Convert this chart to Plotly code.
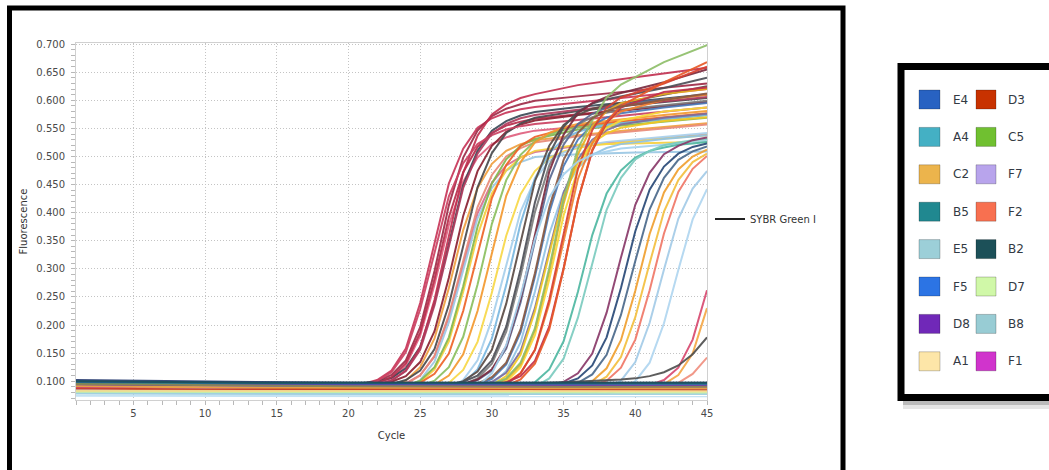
import plotly.graph_objects as go

# ---------------- data ----------------
X_TICKS = [5, 10, 15, 20, 25, 30, 35, 40, 45]
Y_TICKS = [0.100, 0.150, 0.200, 0.250, 0.300, 0.350, 0.400, 0.450, 0.500, 0.550, 0.600, 0.650, 0.700]

# early risers (Ct ~ 25-29)
X_EARLY = [1, 10, 20, 21, 22, 23, 24, 25, 26, 27, 28, 29, 30, 31, 32, 33, 36, 40, 45]
EARLY_COLORS = ["#c8375a", "#9e2c48", "#e0607e", "#3d4a58", "#c23252", "#f0a040", "#b82e4c",
                "#8a2232", "#d87090", "#4a4a4e", "#cc4262", "#e98a78", "#9cc8e4", "#f6d040",
                "#84b84e", "#ee6428", "#b03c5e"]
EARLY_VALUES = [
    [0.095, 0.094, 0.093, 0.095, 0.102, 0.119, 0.158, 0.239, 0.348, 0.452, 0.514, 0.551, 0.568, 0.578, 0.584, 0.588, 0.596, 0.607, 0.620],
    [0.097, 0.096, 0.095, 0.095, 0.100, 0.111, 0.137, 0.196, 0.296, 0.413, 0.498, 0.546, 0.572, 0.585, 0.593, 0.599, 0.607, 0.617, 0.630],
    [0.092, 0.091, 0.090, 0.090, 0.095, 0.104, 0.128, 0.181, 0.272, 0.378, 0.455, 0.498, 0.522, 0.534, 0.541, 0.546, 0.553, 0.563, 0.575],
    [0.099, 0.098, 0.097, 0.097, 0.099, 0.106, 0.123, 0.161, 0.240, 0.347, 0.449, 0.510, 0.546, 0.563, 0.573, 0.579, 0.588, 0.598, 0.611],
    [0.093, 0.092, 0.091, 0.091, 0.093, 0.101, 0.119, 0.160, 0.245, 0.361, 0.471, 0.537, 0.575, 0.593, 0.604, 0.611, 0.627, 0.641, 0.658],
    [0.089, 0.088, 0.087, 0.087, 0.087, 0.092, 0.101, 0.125, 0.176, 0.266, 0.369, 0.444, 0.487, 0.510, 0.522, 0.529, 0.538, 0.548, 0.559],
    [0.094, 0.093, 0.092, 0.092, 0.097, 0.107, 0.132, 0.187, 0.282, 0.392, 0.472, 0.517, 0.542, 0.555, 0.562, 0.567, 0.575, 0.585, 0.597],
    [0.096, 0.095, 0.094, 0.094, 0.094, 0.099, 0.109, 0.134, 0.189, 0.284, 0.394, 0.474, 0.519, 0.544, 0.557, 0.564, 0.574, 0.584, 0.597],
    [0.090, 0.089, 0.088, 0.088, 0.088, 0.089, 0.096, 0.111, 0.144, 0.214, 0.309, 0.399, 0.453, 0.484, 0.499, 0.508, 0.519, 0.528, 0.539],
    [0.095, 0.094, 0.093, 0.093, 0.093, 0.095, 0.102, 0.119, 0.157, 0.236, 0.343, 0.445, 0.506, 0.542, 0.559, 0.569, 0.581, 0.592, 0.604],
    [0.093, 0.092, 0.091, 0.093, 0.100, 0.116, 0.152, 0.228, 0.331, 0.429, 0.488, 0.522, 0.538, 0.548, 0.554, 0.558, 0.565, 0.575, 0.587],
    [0.088, 0.087, 0.086, 0.086, 0.086, 0.087, 0.095, 0.110, 0.145, 0.218, 0.316, 0.410, 0.467, 0.500, 0.515, 0.525, 0.536, 0.545, 0.557],
    [0.081, 0.080, 0.079, 0.079, 0.079, 0.080, 0.087, 0.102, 0.135, 0.205, 0.300, 0.390, 0.444, 0.475, 0.490, 0.499, 0.504, 0.507, 0.509],
    [0.086, 0.085, 0.084, 0.084, 0.084, 0.084, 0.089, 0.098, 0.121, 0.171, 0.259, 0.360, 0.434, 0.475, 0.498, 0.510, 0.521, 0.523, 0.526],
    [0.089, 0.088, 0.087, 0.087, 0.087, 0.087, 0.092, 0.101, 0.125, 0.178, 0.269, 0.375, 0.452, 0.495, 0.519, 0.531, 0.548, 0.557, 0.569],
    [0.090, 0.089, 0.088, 0.088, 0.088, 0.088, 0.090, 0.097, 0.113, 0.149, 0.225, 0.328, 0.426, 0.485, 0.519, 0.535, 0.555, 0.565, 0.577],
    [0.094, 0.093, 0.092, 0.092, 0.094, 0.101, 0.118, 0.156, 0.235, 0.342, 0.444, 0.505, 0.541, 0.558, 0.568, 0.574, 0.583, 0.593, 0.606],
]

# middle risers (Ct ~ 29-36)
X_MID = [1, 10, 20, 25, 26, 27, 28, 29, 30, 31, 32, 33, 34, 35, 36, 37, 38, 39, 42, 45]
MID_COLORS = ["#8cc060", "#f49a30", "#f8d848", "#a8d0ec", "#7ab8e0", "#5b4b45", "#7d7d7d", "#4e5058",
              "#5a6a92", "#7b2c40", "#4a7ab8", "#92c4e4", "#7e6e9e", "#f2c824", "#f8d838", "#e8ae22",
              "#8fbf6a", "#f08030", "#d84232", "#c2304a", "#e85a28", "#8a5a42", "#a6d2ee"]
MID_VALUES = [
    [0.088, 0.087, 0.086, 0.091, 0.101, 0.125, 0.179, 0.272, 0.380, 0.458, 0.503, 0.527, 0.539, 0.547, 0.552, 0.554, 0.556, 0.559, 0.566, 0.574],
    [0.087, 0.086, 0.085, 0.087, 0.094, 0.110, 0.148, 0.225, 0.330, 0.430, 0.490, 0.525, 0.542, 0.552, 0.558, 0.561, 0.564, 0.566, 0.574, 0.581],
    [0.085, 0.084, 0.083, 0.083, 0.088, 0.097, 0.120, 0.170, 0.258, 0.359, 0.433, 0.474, 0.497, 0.509, 0.515, 0.520, 0.522, 0.525, 0.532, 0.538],
    [0.080, 0.079, 0.078, 0.078, 0.079, 0.087, 0.102, 0.137, 0.210, 0.308, 0.402, 0.459, 0.492, 0.507, 0.517, 0.522, 0.526, 0.528, 0.535, 0.542],
    [0.083, 0.082, 0.081, 0.081, 0.081, 0.086, 0.096, 0.121, 0.176, 0.271, 0.381, 0.461, 0.506, 0.531, 0.544, 0.551, 0.556, 0.559, 0.566, 0.574],
    [0.092, 0.091, 0.090, 0.090, 0.090, 0.092, 0.100, 0.117, 0.156, 0.238, 0.350, 0.456, 0.519, 0.556, 0.574, 0.585, 0.591, 0.595, 0.610, 0.625],
    [0.091, 0.090, 0.089, 0.089, 0.089, 0.089, 0.094, 0.105, 0.131, 0.188, 0.287, 0.401, 0.484, 0.531, 0.557, 0.570, 0.578, 0.583, 0.591, 0.599],
    [0.096, 0.095, 0.094, 0.094, 0.094, 0.094, 0.099, 0.110, 0.137, 0.197, 0.299, 0.418, 0.504, 0.553, 0.580, 0.594, 0.602, 0.607, 0.622, 0.640],
    [0.094, 0.093, 0.092, 0.092, 0.092, 0.092, 0.094, 0.102, 0.119, 0.158, 0.240, 0.352, 0.458, 0.521, 0.558, 0.576, 0.587, 0.593, 0.602, 0.610],
    [0.095, 0.094, 0.093, 0.093, 0.093, 0.093, 0.095, 0.103, 0.121, 0.162, 0.247, 0.363, 0.473, 0.539, 0.577, 0.595, 0.606, 0.613, 0.632, 0.655],
    [0.090, 0.089, 0.088, 0.088, 0.088, 0.088, 0.088, 0.093, 0.104, 0.130, 0.187, 0.286, 0.400, 0.483, 0.530, 0.556, 0.569, 0.577, 0.587, 0.595],
    [0.082, 0.081, 0.080, 0.080, 0.080, 0.080, 0.080, 0.085, 0.094, 0.118, 0.169, 0.259, 0.362, 0.437, 0.480, 0.503, 0.515, 0.522, 0.531, 0.538],
    [0.092, 0.091, 0.090, 0.090, 0.090, 0.090, 0.090, 0.092, 0.099, 0.115, 0.153, 0.230, 0.335, 0.435, 0.495, 0.530, 0.547, 0.557, 0.569, 0.576],
    [0.086, 0.085, 0.084, 0.084, 0.084, 0.084, 0.084, 0.086, 0.093, 0.109, 0.147, 0.224, 0.329, 0.429, 0.489, 0.524, 0.541, 0.551, 0.563, 0.570],
    [0.085, 0.084, 0.083, 0.083, 0.083, 0.083, 0.083, 0.083, 0.088, 0.099, 0.125, 0.182, 0.281, 0.395, 0.478, 0.525, 0.551, 0.564, 0.580, 0.587],
    [0.088, 0.087, 0.086, 0.086, 0.086, 0.086, 0.086, 0.086, 0.092, 0.103, 0.130, 0.191, 0.295, 0.416, 0.504, 0.554, 0.581, 0.595, 0.611, 0.620],
    [0.090, 0.089, 0.088, 0.088, 0.088, 0.088, 0.088, 0.088, 0.094, 0.105, 0.133, 0.194, 0.301, 0.424, 0.514, 0.564, 0.605, 0.628, 0.668, 0.698],
    [0.089, 0.088, 0.087, 0.087, 0.087, 0.087, 0.087, 0.087, 0.089, 0.097, 0.114, 0.155, 0.238, 0.352, 0.460, 0.524, 0.562, 0.580, 0.601, 0.610],
    [0.087, 0.086, 0.085, 0.085, 0.085, 0.085, 0.085, 0.085, 0.087, 0.095, 0.114, 0.156, 0.245, 0.364, 0.478, 0.547, 0.587, 0.605, 0.630, 0.660],
    [0.094, 0.093, 0.092, 0.092, 0.092, 0.092, 0.092, 0.092, 0.092, 0.098, 0.109, 0.136, 0.197, 0.301, 0.422, 0.510, 0.560, 0.587, 0.615, 0.623],
    [0.088, 0.087, 0.086, 0.086, 0.086, 0.086, 0.086, 0.086, 0.086, 0.092, 0.103, 0.131, 0.192, 0.299, 0.422, 0.512, 0.562, 0.590, 0.632, 0.668],
    [0.093, 0.092, 0.091, 0.091, 0.091, 0.091, 0.091, 0.096, 0.107, 0.133, 0.192, 0.292, 0.409, 0.494, 0.542, 0.568, 0.581, 0.589, 0.600, 0.612],
    [0.079, 0.078, 0.077, 0.077, 0.077, 0.077, 0.082, 0.091, 0.114, 0.164, 0.252, 0.353, 0.427, 0.468, 0.491, 0.503, 0.509, 0.514, 0.521, 0.528],
]

# late risers (Ct ~ 36-45)
X_LATE = [1, 10, 20, 30, 32, 33, 34, 35, 36, 37, 38, 39, 40, 41, 42, 43, 44, 45]
LATE_COLORS = ["#4fb8a2", "#7cccc0", "#8a3a6a", "#2a4a78", "#4c6a8c", "#f0a030", "#f4c040",
               "#f07868", "#a4cce8", "#b0d6f0", "#d84a70", "#f5a848", "#505050", "#f09080"]
LATE_VALUES = [
    [0.086, 0.085, 0.084, 0.084, 0.089, 0.098, 0.121, 0.171, 0.259, 0.360, 0.434, 0.475, 0.498, 0.510, 0.516, 0.521, 0.523, 0.526],
    [0.083, 0.082, 0.081, 0.081, 0.082, 0.090, 0.105, 0.140, 0.213, 0.311, 0.405, 0.462, 0.495, 0.510, 0.520, 0.525, 0.529, 0.531],
    [0.092, 0.091, 0.090, 0.090, 0.090, 0.090, 0.091, 0.099, 0.114, 0.149, 0.222, 0.320, 0.414, 0.471, 0.504, 0.519, 0.529, 0.534],
    [0.093, 0.092, 0.091, 0.091, 0.091, 0.091, 0.091, 0.096, 0.105, 0.128, 0.178, 0.266, 0.367, 0.441, 0.482, 0.505, 0.517, 0.523],
    [0.091, 0.090, 0.089, 0.089, 0.089, 0.089, 0.089, 0.090, 0.097, 0.112, 0.147, 0.218, 0.314, 0.406, 0.462, 0.494, 0.509, 0.518],
    [0.088, 0.087, 0.086, 0.086, 0.086, 0.086, 0.086, 0.086, 0.091, 0.100, 0.123, 0.173, 0.261, 0.362, 0.436, 0.477, 0.500, 0.512],
    [0.087, 0.086, 0.085, 0.085, 0.085, 0.085, 0.085, 0.085, 0.086, 0.093, 0.108, 0.143, 0.214, 0.310, 0.402, 0.458, 0.490, 0.505],
    [0.089, 0.088, 0.087, 0.087, 0.087, 0.087, 0.087, 0.087, 0.087, 0.092, 0.101, 0.124, 0.174, 0.262, 0.363, 0.437, 0.478, 0.501],
    [0.080, 0.079, 0.078, 0.078, 0.078, 0.078, 0.078, 0.078, 0.078, 0.079, 0.086, 0.101, 0.134, 0.204, 0.299, 0.389, 0.443, 0.474],
    [0.079, 0.078, 0.077, 0.077, 0.077, 0.077, 0.077, 0.077, 0.077, 0.077, 0.078, 0.085, 0.100, 0.133, 0.203, 0.298, 0.388, 0.442],
    [0.090, 0.089, 0.088, 0.088, 0.088, 0.088, 0.088, 0.088, 0.088, 0.088, 0.088, 0.088, 0.088, 0.093, 0.102, 0.124, 0.174, 0.262],
    [0.088, 0.087, 0.086, 0.086, 0.086, 0.086, 0.086, 0.086, 0.086, 0.086, 0.086, 0.086, 0.086, 0.088, 0.095, 0.111, 0.149, 0.230],
    [0.095, 0.094, 0.094, 0.094, 0.095, 0.096, 0.097, 0.098, 0.099, 0.100, 0.101, 0.103, 0.105, 0.109, 0.116, 0.128, 0.148, 0.178],
    [0.087, 0.086, 0.085, 0.085, 0.085, 0.085, 0.085, 0.085, 0.085, 0.085, 0.085, 0.085, 0.085, 0.086, 0.089, 0.097, 0.113, 0.142],
]

# non-amplifying wells (flat baselines)
X_FLAT = [1, 5, 10, 15, 20, 25, 30, 35, 40, 45]
FLAT_COLORS = ["#2b3f73", "#1f5fb8", "#2e74dc", "#23888f", "#43b0c2", "#1d5159", "#7229ba", "#d232c8",
               "#b9a2ea", "#e9a93a", "#8a8a50", "#c83a20", "#9fd0de", "#bfe0f4", "#c9f0a4", "#f6dc90"]
FLAT_VALUES = [
    [0.102, 0.101, 0.099, 0.098, 0.097, 0.097, 0.097, 0.097, 0.097, 0.097],
    [0.099, 0.098, 0.097, 0.096, 0.096, 0.096, 0.096, 0.095, 0.095, 0.095],
    [0.094, 0.094, 0.093, 0.093, 0.093, 0.093, 0.093, 0.093, 0.093, 0.093],
    [0.096, 0.095, 0.094, 0.094, 0.094, 0.094, 0.094, 0.094, 0.094, 0.094],
    [0.091, 0.091, 0.090, 0.090, 0.090, 0.090, 0.090, 0.090, 0.090, 0.090],
    [0.100, 0.099, 0.098, 0.097, 0.097, 0.097, 0.097, 0.097, 0.097, 0.097],
    [0.093, 0.093, 0.092, 0.092, 0.092, 0.092, 0.092, 0.092, 0.092, 0.092],
    [0.089, 0.089, 0.088, 0.088, 0.088, 0.088, 0.088, 0.088, 0.088, 0.088],
    [0.086, 0.086, 0.085, 0.085, 0.085, 0.085, 0.085, 0.085, 0.085, 0.085],
    [0.091, 0.090, 0.089, 0.088, 0.088, 0.087, 0.087, 0.087, 0.087, 0.087],
    [0.095, 0.094, 0.093, 0.092, 0.091, 0.091, 0.090, 0.090, 0.090, 0.090],
    [0.087, 0.086, 0.085, 0.085, 0.085, 0.084, 0.084, 0.084, 0.084, 0.084],
    [0.078, 0.078, 0.077, 0.077, 0.077, 0.077, 0.077, 0.077, 0.077, 0.077],
    [0.074, 0.074, 0.073, 0.073, 0.073, 0.073, 0.073, 0.073, 0.073, 0.073],
    [0.081, 0.081, 0.080, 0.080, 0.080, 0.080, 0.080, 0.080, 0.080, 0.080],
    [0.083, 0.083, 0.082, 0.082, 0.082, 0.082, 0.082, 0.082, 0.082, 0.082],
]

# well legend (right-hand box)
WELLS_LEFT = ["E4", "A4", "C2", "B5", "E5", "F5", "D8", "A1"]
WELLS_LEFT_COLORS = ["#2862c2", "#44b0c4", "#ecb44c", "#208890", "#9ccfd8", "#2c74e4", "#7028b8", "#fde6a8"]
WELLS_RIGHT = ["D3", "C5", "F7", "F2", "B2", "D7", "B8", "F1"]
WELLS_RIGHT_COLORS = ["#c83200", "#70c030", "#b8a4ec", "#f87050", "#1c5058", "#d0f8a8", "#98ccd4", "#d034cc"]

# ---------------- figure ----------------
W, H = 1049, 470
ML, MR, MT, MB = 76, 342, 43, 70
PW, PH = W - ML - MR, H - MT - MB
FONT = "DejaVu Sans"


def fx(px):
    return (px - ML) / PW


def fy(py):
    return (H - MB - py) / PH


fig = go.Figure()
for xs, colors, rows in [(X_EARLY, EARLY_COLORS, EARLY_VALUES),
                         (X_MID, MID_COLORS, MID_VALUES),
                         (X_LATE, LATE_COLORS, LATE_VALUES),
                         (X_FLAT, FLAT_COLORS, FLAT_VALUES)]:
    for col, ys in zip(colors, rows):
        fig.add_trace(go.Scatter(x=xs, y=ys, mode="lines", line=dict(color=col, width=2),
                                 opacity=0.92, showlegend=False, hoverinfo="skip"))

fig.add_trace(go.Scatter(x=[None], y=[None], mode="lines", name="SYBR Green I",
                         line=dict(color="#222222", width=2), showlegend=True))

axis_common = dict(
    showgrid=True, gridcolor="#c4c4c4", griddash="1px,2px", gridwidth=1,
    showline=True, linecolor="#d0d0d0", linewidth=1, mirror=True, zeroline=False,
    ticks="outside", ticklen=4, tickcolor="#b8b8b8",
    tickfont=dict(family=FONT, size=10, color="#4a4a4a"),
)

shapes = []
annotations = []

# outer black frame around the chart
shapes.append(dict(type="rect", xref="paper", yref="paper",
                   x0=fx(9.5), x1=fx(843), y0=fy(495), y1=fy(8),
                   line=dict(color="black", width=5), fillcolor="rgba(0,0,0,0)", layer="above"))

# shadow + legend box on the right
shapes.append(dict(type="rect", xref="paper", yref="paper",
                   x0=fx(903), x1=fx(1070), y0=fy(409), y1=fy(398),
                   line=dict(width=0), fillcolor="rgba(0,0,0,0.10)", layer="above"))
shapes.append(dict(type="rect", xref="paper", yref="paper",
                   x0=fx(903), x1=fx(1070), y0=fy(405), y1=fy(398),
                   line=dict(width=0), fillcolor="rgba(0,0,0,0.18)", layer="above"))
shapes.append(dict(type="rect", xref="paper", yref="paper",
                   x0=fx(901), x1=fx(1070), y0=fy(397.5), y1=fy(66.5),
                   line=dict(color="black", width=7), fillcolor="white", layer="above"))

for i in range(len(WELLS_LEFT)):
    yc = 99.5 + 37.4 * i
    for label, col, sx0, sx1, tx in [(WELLS_LEFT[i], WELLS_LEFT_COLORS[i], 919, 940, 951),
                                     (WELLS_RIGHT[i], WELLS_RIGHT_COLORS[i], 976, 996, 1006)]:
        shapes.append(dict(type="rect", xref="paper", yref="paper",
                           x0=fx(sx0), x1=fx(sx1), y0=fy(yc + 9.5), y1=fy(yc - 9.5),
                           line=dict(color="rgba(0,0,0,0.22)", width=1), fillcolor=col, layer="above"))
        annotations.append(dict(xref="paper", yref="paper", x=fx(tx), y=fy(yc),
                                xanchor="left", yanchor="middle", showarrow=False, text=label,
                                font=dict(family=FONT, size=12, color="#333a44")))

fig.update_layout(
    width=W, height=H,
    margin=dict(l=ML, r=MR, t=MT, b=MB, autoexpand=False),
    paper_bgcolor="white", plot_bgcolor="white",
    xaxis=dict(range=[1, 45], tickmode="linear", tick0=5, dtick=5,
               minor=dict(dtick=1, tick0=0, ticks="outside", ticklen=4, tickcolor="#b8b8b8", showgrid=False),
               title=dict(text="Cycle", font=dict(family=FONT, size=10, color="#333333"), standoff=13),
               **axis_common),
    yaxis=dict(range=[0.0665, 0.702], tickmode="linear", tick0=0.1, dtick=0.05, tickformat=".3f",
               minor=dict(dtick=0.01, tick0=0, ticks="outside", ticklen=4, tickcolor="#b8b8b8", showgrid=False),
               ticklabelstandoff=4,
               title=dict(text="Fluorescence", font=dict(family=FONT, size=10, color="#333333"), standoff=6),
               **axis_common),
    legend=dict(x=fx(710), y=fy(219), xanchor="left", yanchor="middle",
                font=dict(family=FONT, size=10, color="#333333"), bgcolor="rgba(0,0,0,0)",
                borderwidth=0, itemwidth=30),
    shapes=shapes,
    annotations=annotations,
    showlegend=True,
)

# the page's default 8px body margin would shift the figure; remove it
fig.write_html("out.html",
               config={"displayModeBar": False},
               post_script="document.body.style.margin='0px';document.body.style.overflow='hidden';")
